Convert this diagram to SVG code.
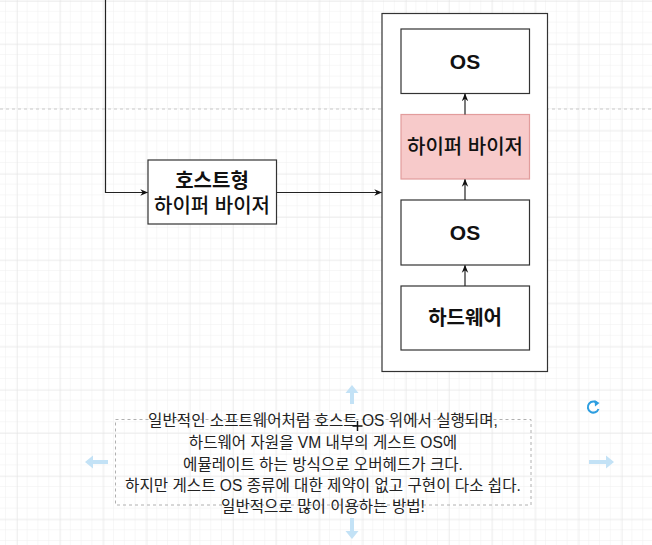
<svg xmlns="http://www.w3.org/2000/svg" width="652" height="545" viewBox="0 0 652 545">
<defs>
<pattern id="minor" x="6" y="1" width="10.8" height="10.8" patternUnits="userSpaceOnUse">
<path d="M10.8 0V10.8M0 10.8H10.8" fill="none" stroke="#f0f0f0" stroke-width="1"/>
</pattern>
<pattern id="major" x="17" y="1" width="43.2" height="43.2" patternUnits="userSpaceOnUse">
<path d="M0 0V43.2M0 0H43.2" fill="none" stroke="#e3e3e3" stroke-width="1"/>
</pattern>
<marker id="arr" viewBox="0 0 10 10" refX="9" refY="5" markerWidth="8" markerHeight="8" orient="auto" markerUnits="userSpaceOnUse">
<path d="M0 1L10 5L0 9L3 5Z" fill="#111"/>
</marker>
</defs>
<style>
.box{fill:#fff;stroke:#333;stroke-width:1.2}
.red{fill:#f7caca;stroke:#e29c9c;stroke-width:1.2}
.lbl{font-family:"Liberation Sans","Noto Sans CJK KR",sans-serif;fill:#111;text-anchor:middle}
.ko{font-family:"Liberation Sans","Noto Sans CJK KR",sans-serif;fill:#111;text-anchor:middle}
.con{fill:none;stroke:#222;stroke-width:1.2;marker-end:url(#arr)}
.desc{font-family:"Liberation Sans","Noto Sans CJK KR",sans-serif;font-size:15.6px;fill:#222;text-anchor:middle}
.handle{fill:#c3e2f6}
</style>
<rect width="652" height="545" fill="#fff"/>
<rect width="652" height="545" fill="url(#minor)"/>
<rect width="652" height="545" fill="url(#major)"/>
<path d="M0 109H652" stroke="#c8c8c8" stroke-width="1" stroke-dasharray="3 3"/>

<g id="container">
<rect class="box" x="382" y="13.5" width="165.5" height="358"/>
</g>
<g id="os-guest">
<rect class="box" x="401" y="29" width="128.5" height="64.5"/>
<text class="lbl" x="465" y="69" font-size="21" font-weight="bold">OS</text>
</g>
<g id="hypervisor">
<rect class="red" x="401" y="114.5" width="128.5" height="64.5"/>
<text class="ko" x="465" y="154" font-size="20" font-weight="500">하이퍼 바이저</text>
</g>
<g id="os-host">
<rect class="box" x="401" y="200" width="128.5" height="65"/>
<text class="lbl" x="465" y="240" font-size="21" font-weight="bold">OS</text>
</g>
<g id="hardware">
<rect class="box" x="401" y="286" width="128.5" height="64"/>
<text class="ko" x="465" y="325" font-size="20" font-weight="bold">하드웨어</text>
</g>
<g id="hosted-hypervisor">
<rect class="box" x="148" y="160" width="128.5" height="64"/>
<text class="ko" x="212" y="187.5" font-size="20" font-weight="bold">호스트형</text>
<text class="ko" x="212" y="213" font-size="20" font-weight="500">하이퍼 바이저</text>
</g>

<g id="connectors">
<path class="con" d="M105.5 0V192.5H147.5"/>
<path class="con" d="M276.5 192.5H381.5"/>
<path class="con" d="M465 286V265.5"/>
<path class="con" d="M465 200V179.5"/>
<path class="con" d="M465 114.5V94"/>
</g>

<g id="description">
<rect x="115.5" y="419.5" width="415.5" height="85.5" fill="none" stroke="#b0b0b0" stroke-width="1" stroke-dasharray="3 3"/>
<g class="handle">
<path d="M352 385L358.5 393H354V404H350V393H345.5Z"/>
<path d="M352 539L358.5 531H354V518H350V531H345.5Z"/>
<path d="M85 462L93 455.5V460H108V464H93V468.5Z"/>
<path d="M614 462L606 455.5V460H589V464H606V468.5Z"/>
</g>
<path d="M597.5 403.5A5.5 5.5 0 1 0 598.5 409" fill="none" stroke="#2d9ee0" stroke-width="2"/>
<path d="M594.5 400L599.5 403L595 406.5Z" fill="#2d9ee0"/>
<text class="desc" x="323" y="426">일반적인 소프트웨어처럼 호스트 OS 위에서 실행되며,</text>
<text class="desc" x="323" y="448">하드웨어 자원을 VM 내부의 게스트 OS에</text>
<text class="desc" x="323" y="469.5">에뮬레이트 하는 방식으로 오버헤드가 크다.</text>
<text class="desc" x="323" y="491">하지만 게스트 OS 종류에 대한 제약이 없고 구현이 다소 쉽다.</text>
<text class="desc" x="323" y="512">일반적으로 많이 이용하는 방법!</text>
<path d="M357.5 421V431M352.5 426H362.5" stroke="#111" stroke-width="1.5"/>
</g>
</svg>
